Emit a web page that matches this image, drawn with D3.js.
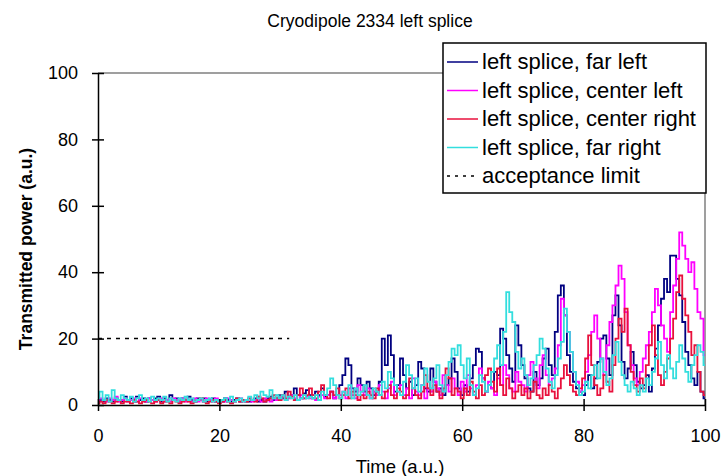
<!DOCTYPE html>
<html>
<head>
<meta charset="utf-8">
<script src="https://cdn.jsdelivr.net/npm/d3@7"></script>
<style>
  body { margin: 0; background: #fff; }
  svg text { font-family: "Liberation Sans", Arial, sans-serif; }
</style>
</head>
<body>
<script>
svgWidth = 721
svgHeight = 476
margin = {"top": 73, "bottom": 71, "left": 98, "right": 16}

// time step of the recorded traces
tStep = 0.5

// far left (navy)
farLeft = [
  1,1.5,1,2,1.5,1,2,1.5,1,2.5,
  1.5,2,1,2.5,1.5,2,1,2,1.5,2,
  2.5,1,2,1.5,3,1.5,2,1,2,1.5,
  2.5,1.5,1,2,1.5,2,1,1.5,2,1,
  1.5,1,2,1.5,1,1.5,2,1,1.5,1,
  1,1.5,2,1,1.5,1,2,2.5,1.5,2,
  3,2,4,2.5,3,5,3,2,3.5,4.5,
  3,2,4,3,5,2.5,3,4,2,3,
  6,9,14,12,5,4,8,6,4,7,
  5,3,4,7,20,12,21,15,4,6,
  14,9,5,7,3,6,13,11,5,4,
  11,7,4,5,3,6,8,14,10,5,
  3,6,4,8,12,17,16,8,4,6,
  5,10,9,23,20,15,11,7,24,18,
  12,8,5,4,10,6,8,14,17,12,
  9,22,33,36,27,15,10,7,5,4,
  3,6,9,5,8,13,20,21,14,9,
  27,33,24,13,8,11,16,12,7,5,
  6,9,4,11,17,24,32,38,34,45,
  45,38,33,25,16,12,8,6,10,4,
  2
]

// center left (magenta)
centerLeft = [
  1,2,1.5,1,2,1.5,2.5,1,1.5,2,
  1,1.5,2,1,2,1.5,1,2,1.5,1,
  1.5,2,1,1.5,1,2,1.5,1,2,1,
  1.5,1,2,1,1.5,1,2,1.5,1,2,
  1,1.5,1,2,1.5,1,1.5,2,1,1.5,
  2,1,1.5,2.5,1,2,1.5,1,2,1.5,
  2,3,1.5,2,3,2,1.5,3,2,2.5,
  2,3,1.5,2.5,3,2,3,4,2,3,
  3,4,2,5,3,2,6,4,3,5,
  2,4,3,6,4,2,5,7,3,4,
  6,3,5,2,8,4,3,6,2,5,
  4,7,5,3,9,6,4,8,5,3,
  7,4,9,5,3,6,11,8,4,7,
  5,3,8,6,12,9,5,4,10,7,
  6,4,9,13,8,5,12,15,9,6,
  8,11,18,32,27,22,16,10,7,4,
  6,10,15,22,27,20,14,9,18,25,
  30,36,42,38,28,18,12,8,6,10,
  14,18,22,28,35,30,24,20,16,28,
  36,44,52,48,44,40,43,35,28,26,
  15
]

// center right (crimson)
centerRight = [
  0.5,1,0.5,1.5,1,0.5,1,1.5,0.5,1,
  1,0.5,1.5,1,0.5,1,1.5,1,0.5,1,
  1.5,0.5,1,1,0.5,1.5,1,0.5,1,1.5,
  1,0.5,1,1.5,2,1,0.5,1,1.5,1,
  0.5,1,1.5,1,0.5,1,2,1,1.5,1,
  2,1.5,1,2.5,2,1,1.5,2,3,2,
  1.5,3,2,4,2.5,1.5,3,5,2,3,
  5,3,2,4,6,3,2,4,3,5,
  2,3,5,2,4,3,1.5,3,2,4,
  3,2,5,3,2,4,6,3,2,5,
  4,2,3,8,5,3,2,4,9,5,
  3,6,4,2,5,11,8,3,5,4,
  2,5,3,7,4,2,6,3,9,11,
  7,4,11,6,3,8,5,2,4,6,
  3,5,2,4,7,3,2,5,3,6,
  4,2,5,8,12,9,6,4,3,5,
  8,14,21,12,6,3,5,9,7,4,
  12,20,26,22,29,18,10,6,4,8,
  5,12,18,24,15,9,6,10,14,20,
  26,34,39,32,27,22,15,18,10,4,
  3
]

// far right (cyan)
farRight = [
  2,4,1.5,3,1,4.5,2,1.5,3,2,
  1.5,2.5,1,2,3,1.5,2,1,2.5,1.5,
  2,1.5,2.5,1,2,1.5,1,2,1.5,2.5,
  1.5,2,1,1.5,2,1,1.5,2,1,1.5,
  1,1.5,2,1,2.5,1,1.5,2,1,1.5,
  2.5,1.5,3,2,4,3,2.5,4.5,2,3,
  2,3,1.5,2.5,2,3,1.5,2,3,2,
  2.5,2,3,1.5,4,3,5,8,6,3,
  2,4,3,6,2,5,3,4,6,3,
  2,5,4,3,7,5,10,8,6,4,
  3,7,12,9,5,8,4,6,11,7,
  5,8,12,6,4,9,13,17,15,18,
  12,8,14,6,3,5,9,7,4,6,
  10,14,18,12,22,34,28,25,16,11,
  14,9,6,8,12,15,20,17,11,7,
  5,9,14,19,29,22,16,10,6,3,
  4,7,5,9,12,8,14,10,6,8,
  15,19,13,9,6,4,7,5,3,6,
  4,8,6,10,14,19,12,8,15,11,
  8,13,18,14,10,7,12,15,18,16,
  12
]

seriesNames = ['left splice, far left', 'left splice, center left', 'left splice, center right', 'left splice, far right']
seriesColors = ['#000080', '#ff00ff', '#e8103c', '#33dede']
seriesValues = [farLeft, centerLeft, centerRight, farRight]

limitName = 'acceptance limit'
limitValue = 20
limitEnd = 31.5

xTicks = [0, 20, 40, 60, 80, 100]
yTicks = [0, 20, 40, 60, 80, 100]

chartWidth = svgWidth - (margin.left + margin.right)
chartHeight = svgHeight - (margin.top + margin.bottom)

xScale = d3.scaleLinear()
            .domain([0, 100])
            .range([margin.left, margin.left + chartWidth])

yScale = d3.scaleLinear()
            .domain([0, 100])
            .range([margin.top + chartHeight, margin.top])

var svg = d3.select("body").append("svg")
          .attr("width", svgWidth)
          .attr("height", svgHeight)

// plot frame (grey top/right edges)
svg.append('path')
    .attr('d', 'M' + xScale(0) + ',' + yScale(100) + 'H' + xScale(100) + 'V' + yScale(0))
    .attr('fill', 'none')
    .attr('stroke', '#808080')
    .attr('stroke-width', 1.5)

// acceptance limit
svg.append('line')
    .attr('x1', xScale(0)).attr('x2', xScale(limitEnd))
    .attr('y1', yScale(limitValue)).attr('y2', yScale(limitValue))
    .attr('stroke', '#000')
    .attr('stroke-width', 1.5)
    .attr('stroke-dasharray', '4,5')

var line = d3.line()
    .x(function(d, i) { return xScale(i * tStep); })
    .y(function(d) { return yScale(d); })
    .curve(d3.curveStep)

seriesValues.forEach(function(vals, k) {
  svg.append('path')
      .datum(vals)
      .attr('d', line)
      .attr('fill', 'none')
      .attr('stroke', seriesColors[k])
      .attr('stroke-width', 1.8)
      .attr('stroke-linejoin', 'miter')
})

// axes
xAxis = d3.axisBottom(xScale).tickValues(xTicks).tickSize(0).tickPadding(24)
yAxis = d3.axisLeft(yScale).tickValues(yTicks).tickSize(0).tickPadding(20)

var gx = svg.append('g')
    .attr('transform', 'translate(0,' + yScale(0) + ')')
    .call(xAxis)
var gy = svg.append('g')
    .attr('transform', 'translate(' + xScale(0) + ',0)')
    .call(yAxis)

;[gx, gy].forEach(function(g) {
  g.select('.domain').attr('stroke', '#000').attr('stroke-width', 1.5)
  g.selectAll('text').attr('font-size', 18).attr('fill', '#000')
      .attr('font-family', '"Liberation Sans", Arial, sans-serif')
})

// crossing tick marks
gx.selectAll('.tick').append('line')
    .attr('y1', -6).attr('y2', 6).attr('stroke', '#000').attr('stroke-width', 1.5)
gy.selectAll('.tick').append('line')
    .attr('x1', -6).attr('x2', 6).attr('stroke', '#000').attr('stroke-width', 1.5)

// titles
svg.append('text')
    .attr('x', 370).attr('y', 27)
    .attr('text-anchor', 'middle')
    .attr('font-size', 17.5)
    .text('Cryodipole 2334 left splice')

svg.append('text')
    .attr('x', 400).attr('y', 473)
    .attr('text-anchor', 'middle')
    .attr('font-size', 18.5)
    .text('Time (a.u.)')

svg.append('text')
    .attr('transform', 'translate(32,249) rotate(-90)')
    .attr('text-anchor', 'middle')
    .attr('font-size', 17.5)
    .attr('font-weight', 'bold')
    .text('Transmitted power (a.u.)')

// legend
var legend = svg.append('g').attr('transform', 'translate(443,43)')
legend.append('rect')
    .attr('width', 263).attr('height', 150)
    .attr('fill', '#fff').attr('stroke', '#000').attr('stroke-width', 1.5)

var entries = seriesNames.concat([limitName])
entries.forEach(function(name, k) {
  var yy = 19 + k * 28.5
  var ln = legend.append('line')
      .attr('x1', 4).attr('x2', 35)
      .attr('y1', yy).attr('y2', yy)
      .attr('stroke-width', 1.5)
  if (k < seriesNames.length) {
    ln.attr('stroke', seriesColors[k])
  } else {
    ln.attr('stroke', '#000').attr('stroke-dasharray', '3,5')
  }
  legend.append('text')
      .attr('x', 39).attr('y', yy + 7)
      .attr('font-size', 22)
      .text(name)
})
</script>
</body>
</html>
